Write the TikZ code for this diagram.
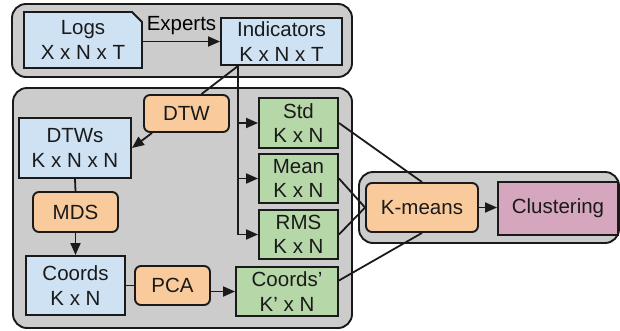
\documentclass[tikz,border=0pt]{standalone}
\usepackage{fontspec}
\setmainfont{Liberation Sans}
\usetikzlibrary{arrows.meta,calc}

\definecolor{grpgray}{HTML}{CCCCCC}
\definecolor{datablue}{HTML}{CFE2F3}
\definecolor{procorange}{HTML}{F9CB9C}
\definecolor{featgreen}{HTML}{B6D7A8}
\definecolor{resultpink}{HTML}{D5A6BD}
\definecolor{ink}{HTML}{1A1A1A}

\begin{document}
\begin{tikzpicture}[x=1pt, y=-1pt,
  font=\fontsize{20.5}{24.5}\selectfont,
  box/.style={draw=ink, line width=1.9pt, align=center, inner sep=0pt, text=ink},
  databox/.style={box, fill=datablue},
  featbox/.style={box, fill=featgreen},
  procbox/.style={box, fill=procorange, rounded corners=6pt},
  resbox/.style={box, fill=resultpink},
  grpbox/.style={draw=ink, line width=1.9pt, fill=grpgray, rounded corners=14pt},
  link/.style={draw=ink, line width=1.8pt},
  arr/.style={link, -{Triangle[length=12pt,width=10pt]}}]

\useasboundingbox (0,0) rectangle (620,330);

% group panels
\draw[grpbox] (12,4) rectangle (352,77);
\draw[grpbox] (13,88) rectangle (352,328);
\draw[grpbox] (359,172) rectangle (619,243);

% raw logs: document with a folded corner
\draw[draw=ink, line width=1.9pt, fill=datablue]
  (24,68) -- (24,12) -- (132,12) -- (142,22) -- (142,68) -- cycle;
\node[box, draw=none, minimum width=118pt, minimum height=56pt] (logs) at (83,40) {Logs\\X x N x T};

\node[databox, minimum width=121pt, minimum height=47pt] (ind) at (281.5,41.5) {Indicators\\K x N x T};

% distance branch
\node[procbox, minimum width=85pt, minimum height=37pt] (dtw) at (186.5,113.5) {DTW};
\node[databox, minimum width=112pt, minimum height=60pt] (dtws) at (75,148) {DTWs\\K x N x N};
\node[procbox, minimum width=85pt, minimum height=40pt] (mds) at (75.5,212) {MDS};
\node[databox, minimum width=99pt, minimum height=59pt] (coords) at (75.5,285.5) {Coords\\K x N};
\node[procbox, minimum width=75pt, minimum height=39pt] (pca) at (172.5,285.5) {PCA};
\node[featbox, minimum width=102pt, minimum height=49pt] (cp) at (287,291.5) {Coords'\\K' x N};

% statistical features
\node[featbox, minimum width=79pt, minimum height=50pt] (std) at (298.5,123) {Std\\K x N};
\node[featbox, minimum width=79pt, minimum height=49pt] (mean) at (298.5,178.5) {Mean\\K x N};
\node[featbox, minimum width=79pt, minimum height=49pt] (rms) at (298.5,234.5) {RMS\\K x N};

% clustering
\node[procbox, minimum width=112pt, minimum height=49pt] (km) at (422,207.5) {K-means};
\node[resbox, minimum width=120pt, minimum height=53pt] (cl) at (558,208.5) {Clustering};

% connectors
\draw[arr] (logs.east |- ind.west) -- (ind.west)
  node[midway, above, inner sep=0pt, yshift=6pt] {Experts};

\coordinate (trunk) at ($(ind.south west)+(18,0)$);
\draw[link] (trunk) -- ($(dtw.north)+(15,0)$);
\draw[arr] ($(dtw.south west)+(9,0)$) -- (dtws.east);
\draw[link] (trunk) -- (trunk |- rms.west);
\draw[arr] (trunk |- std.west) -- (std.west);
\draw[arr] (trunk |- mean.west) -- (mean.west);
\draw[arr] (trunk |- rms.west) -- (rms.west);

\draw[link] (dtws.south) -- (mds.north);
\draw[arr] (mds.south) -- (coords.north);
\draw[link] (coords.east |- pca.west) -- (pca.west);
\draw[arr] (pca.east |- cp.west) -- (cp.west);

\draw[link] (std.east) -- (km.north);
\draw[link] (mean.east) -- (km.west);
\draw[link] (rms.east) -- (km.west);
\draw[link] ($(cp.east)+(0,-11)$) -- (km.south);
\draw[arr] (km.east) -- (cl.west |- km.east);

\end{tikzpicture}
\end{document}
